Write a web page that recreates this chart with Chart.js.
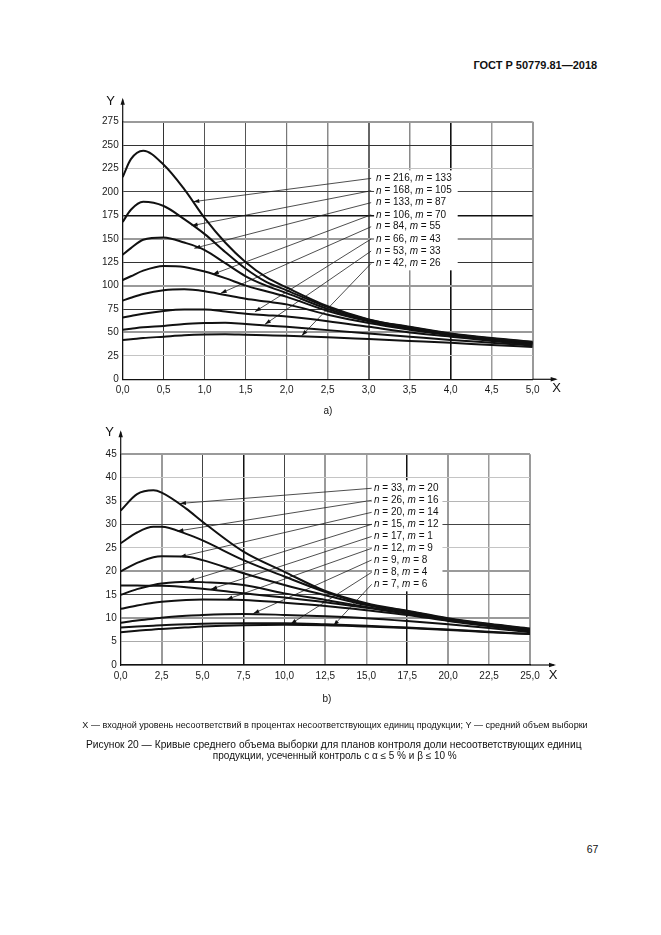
<!DOCTYPE html>
<html><head><meta charset="utf-8">
<script src="https://cdn.jsdelivr.net/npm/chart.js@4.4.1/dist/chart.umd.min.js"></script>
<style>
html,body{margin:0;padding:0;background:#fff;}
body{width:661px;height:935px;position:relative;overflow:hidden;font-family:"Liberation Sans",Arial,sans-serif;color:#111;}
.t{position:absolute;white-space:nowrap;line-height:1;}
canvas{position:absolute;left:0;}
</style></head><body>
<div class="t" id="hdr" style="font-weight:bold">ГОСТ Р 50779.81—2018</div>
<canvas id="c1" style="top:80px;width:661px;height:345px"></canvas>
<div class="t" id="la">a)</div>
<canvas id="c2" style="top:420px;width:661px;height:290px"></canvas>
<div class="t" id="lb">b)</div>
<div class="t" id="fn">X — входной уровень несоответствий в процентах несоответствующих единиц продукции; Y — средний объем выборки</div>
<div class="t" id="cap1">Рисунок 20 — Кривые среднего объема выборки для планов контроля доли несоответствующих единиц</div>
<div class="t" id="cap2">продукции, усеченный контроль с α ≤ 5 % и β ≤ 10 %</div>
<div class="t" id="pg">67</div>
<script>
// ---------- DATA: chart a) ----------
const topX = [0, 0.1, 0.25, 0.5, 0.75, 1.0, 1.25, 1.5, 1.75, 2.0, 2.5, 3.0, 3.5, 4.0, 4.5, 5.0];
const topCurve216 = [216, 235, 244, 229, 203, 172, 146, 125, 109, 98, 78, 64, 56, 49, 44, 40];
const topCurve168 = [168, 181, 189.5, 185, 171, 155, 136, 118, 104, 95, 77, 63.5, 55.5, 48.5, 43.5, 39.5];
const topCurve133 = [133, 140, 149, 151.5, 146, 138, 124, 110, 100, 92, 75, 62.5, 55, 48, 43, 39];
const topCurve106 = [106, 110, 116, 121, 120, 115, 108, 100, 94, 88, 73, 62, 54, 47.5, 42.5, 38.5];
const topCurve84 = [84, 87, 91, 95, 96, 94, 90, 86, 83, 80, 69, 60, 53, 47, 42, 38];
const topCurve66 = [66, 67.5, 70, 73, 74.5, 74.5, 72.5, 70, 68.5, 67, 62, 56, 50, 45.5, 41, 37];
const topCurve53 = [53, 54, 55.5, 57, 59, 60, 60.5, 59, 57.5, 56, 52.5, 49, 45.5, 42, 39, 36];
const topCurve42 = [42, 42.7, 44, 45.5, 47, 47.8, 48, 47.5, 47, 46.5, 45, 43, 41, 39, 36.5, 34.5];
const topN = [216, 168, 133, 106, 84, 66, 53, 42];
const topM = [133, 105, 87, 70, 55, 43, 33, 26];
const topLabelX = 3.09;
const topLeaderStartX = 3.03;
const topLabelY = [214.5, 201.3, 188.6, 175.6, 162.9, 149.8, 136.9, 123.8];
const topTipX = [0.861, 0.841, 0.873, 1.098, 1.195, 1.613, 1.735, 2.183];
const topTipY = [189.6, 164, 139.9, 112.1, 91.8, 72.2, 58.7, 46.5];
const topXTicks = ['0,0','0,5','1,0','1,5','2,0','2,5','3,0','3,5','4,0','4,5','5,0'];
const topYTicks = ['0','25','50','75','100','125','150','175','200','225','250','275'];

// ---------- DATA: chart b) ----------
const botX = [0, 1, 2, 2.5, 4, 5, 7.5, 10, 12.5, 15, 17.5, 20, 22.5, 25];
const botCurve33 = [33, 36.5, 37.3, 36.8, 33.4, 30.6, 24.2, 19.9, 15.8, 13.2, 11.6, 10, 8.8, 7.8];
const botCurve26 = [26, 28.3, 29.5, 29.5, 28, 26.6, 22.4, 18.9, 15.6, 13, 11.5, 9.9, 8.7, 7.7];
const botCurve20 = [20, 21.8, 23, 23.2, 23.1, 22.4, 19.6, 17.1, 14.9, 12.8, 11.3, 9.8, 8.6, 7.6];
const botCurve15 = [15, 16.2, 17.1, 17.4, 17.8, 17.7, 17.1, 15.3, 13.9, 12.4, 11, 9.6, 8.5, 7.5];
const botCurve17 = [17, 17, 16.9, 16.9, 16.6, 16.3, 15.3, 14.4, 13.4, 12.2, 11, 9.6, 8.4, 7.3];
const botCurve12 = [12, 12.7, 13.3, 13.5, 13.9, 14, 13.9, 13.3, 12.6, 11.7, 10.7, 9.4, 8.3, 7.2];
const botCurve9 = [9, 9.5, 9.9, 10.1, 10.5, 10.7, 10.9, 10.7, 10.4, 10, 9.4, 8.7, 7.9, 7];
const botCurve8 = [8, 8.2, 8.4, 8.5, 8.7, 8.8, 8.9, 8.9, 8.7, 8.4, 8, 7.6, 7.1, 6.6];
const botCurve7 = [7, 7.3, 7.6, 7.7, 8, 8.2, 8.5, 8.6, 8.5, 8.2, 7.9, 7.5, 7, 6.6];
const botN = [33, 26, 20, 15, 17, 12, 9, 8, 7];
const botM = [20, 16, 14, 12, 1, 9, 8, 4, 6];
const botLabelX = 15.47;
const botLeaderStartX = 15.33;
const botLabelY = [37.74, 35.17, 32.61, 30.05, 27.45, 24.92, 22.43, 19.8, 17.23];
const botTipX = [3.62, 3.46, 3.62, 4.13, 5.52, 6.47, 8.10, 10.38, 12.99];
const botTipY = [34.5, 28.6, 23.1, 17.9, 16.2, 14.0, 11.0, 8.76, 8.4];
const botXTicks = ['0,0','2,5','5,0','7,5','10,0','12,5','15,0','17,5','20,0','22,5','25,0'];
const botYTicks = ['0','5','10','15','20','25','30','35','40','45'];

// ---------- helpers ----------
const FONT = '"Liberation Sans", Arial, sans-serif';
function curveDs(xs, ys){
  return {data: xs.map((x,i)=>({x:x,y:ys[i]})), borderColor:'#111', borderWidth:2,
    pointRadius:0, cubicInterpolationMode:'monotone', fill:false, order:1};
}
function leaderDs(sx, ly, tx, ty){
  return {data:[{x:sx,y:ly},{x:tx,y:ty}], borderColor:'#222', borderWidth:0.8,
    pointRadius:0, tension:0, fill:false, leader:true, order:2};
}
function fixedFit(w){ return s => { s.width = w; }; }
function fixedH(h){ return s => { s.height = h; }; }

const decorPlugin = {
  id:'decor',
  afterDatasetsDraw(chart, args, o){
    const ctx = chart.ctx, xs = chart.scales.x, ys = chart.scales.y;
    // arrowheads on leaders
    chart.data.datasets.forEach(ds=>{
      if(!ds.leader) return;
      const a = ds.data[0], b = ds.data[1];
      const x0 = xs.getPixelForValue(a.x), y0 = ys.getPixelForValue(a.y);
      const x1 = xs.getPixelForValue(b.x), y1 = ys.getPixelForValue(b.y);
      const ang = Math.atan2(y1-y0, x1-x0);
      const L = 6, W = 2;
      ctx.save(); ctx.fillStyle='#111'; ctx.beginPath();
      ctx.moveTo(x1,y1);
      ctx.lineTo(x1 - L*Math.cos(ang) + W*Math.sin(ang), y1 - L*Math.sin(ang) - W*Math.cos(ang));
      ctx.lineTo(x1 - L*Math.cos(ang) - W*Math.sin(ang), y1 - L*Math.sin(ang) + W*Math.cos(ang));
      ctx.closePath(); ctx.fill(); ctx.restore();
    });
    // labels with white box
    const lx = xs.getPixelForValue(o.labelX);
    ctx.save();
    ctx.textBaseline='middle';
    const parts = o.n.map((n,i)=>[['n',true],[' = '+n+', ',false],['m',true],[' = '+o.m[i],false]]);
    let maxW = 0;
    parts.forEach(p=>{ let w=0; p.forEach(([t,it])=>{ctx.font=(it?'italic ':'')+'10px '+FONT; w+=ctx.measureText(t).width;}); maxW=Math.max(maxW,w); });
    const yTop = ys.getPixelForValue(o.labelY[0]) - 8;
    const yBot = ys.getPixelForValue(o.labelY[o.labelY.length-1]) + 7;
    ctx.fillStyle='#fff';
    ctx.fillRect(lx-2, yTop, maxW+o.boxExtra, yBot-yTop);
    ctx.fillStyle='#111';
    parts.forEach((p,i)=>{
      let x = lx; const y = ys.getPixelForValue(o.labelY[i]);
      p.forEach(([t,it])=>{ctx.font=(it?'italic ':'')+'10px '+FONT; ctx.fillText(t,x,y); x+=ctx.measureText(t).width;});
    });
    ctx.restore();
  },
  afterDraw(chart, args, o){
    const ctx = chart.ctx, ca = chart.chartArea;
    ctx.save();
    ctx.strokeStyle='#111'; ctx.fillStyle='#111'; ctx.lineWidth=1.2;
    const ytop = ca.top - o.yExt, xr = ca.right + o.xExt;
    ctx.beginPath(); ctx.moveTo(ca.left, ca.top); ctx.lineTo(ca.left, ytop+2); ctx.stroke();
    ctx.beginPath(); ctx.moveTo(ca.right, ca.bottom); ctx.lineTo(xr-2, ca.bottom); ctx.stroke();
    ctx.beginPath(); ctx.moveTo(ca.left, ytop); ctx.lineTo(ca.left-2.2, ytop+7); ctx.lineTo(ca.left+2.2, ytop+7); ctx.closePath(); ctx.fill();
    ctx.beginPath(); ctx.moveTo(xr, ca.bottom); ctx.lineTo(xr-7, ca.bottom-2.2); ctx.lineTo(xr-7, ca.bottom+2.2); ctx.closePath(); ctx.fill();
    ctx.font='13px '+FONT; ctx.textAlign='center'; ctx.textBaseline='middle';
    ctx.fillText('Y', ca.left + o.yLab[0], ytop + o.yLab[1]);
    ctx.fillText('X', xr + o.xLab[0], ca.bottom + o.xLab[1]);
    ctx.restore();
  }
};

function gridStyle(map){
  return {
    color: c => (map[String(c.tick && c.tick.value)] || ['#888',1])[0],
    lineWidth: c => (map[String(c.tick && c.tick.value)] || ['#888',1])[1],
    drawTicks:false
  };
}

Chart.defaults.font.family = FONT;
Chart.defaults.color = '#1a1a1a';

function makeChart(id, cfg){
  const curves = cfg.curves.map(ys=>curveDs(cfg.xs, ys));
  const leaders = cfg.tipX.map((tx,i)=>leaderDs(cfg.leaderStartX, cfg.labelY[i], tx, cfg.tipY[i]));
  const cv = document.getElementById(id);
  cv.width = 661; cv.height = cfg.h;
  return new Chart(cv, {
    type:'line',
    data:{datasets: curves.concat(leaders)},
    options:{
      responsive:false, animation:false, devicePixelRatio:1,
      layout:{padding:{left:0, top:cfg.padTop, right:cfg.padRight, bottom:0}},
      plugins:{legend:{display:false}, tooltip:{enabled:false},
        decor:{labelX:cfg.labelX, labelY:cfg.labelY, n:cfg.n, m:cfg.m, boxExtra:cfg.boxExtra,
          yExt:cfg.yExt, xExt:cfg.xExt, yLab:cfg.yLab, xLab:cfg.xLab}},
      scales:{
        x:{type:'linear', min:0, max:cfg.xMax,
          afterFit: fixedH(cfg.xH),
          afterBuildTicks: s => { s.ticks = cfg.xTicks.map((t,i)=>({value: i*cfg.xStep})); },
          ticks:{callback:(v,i)=>cfg.xTicks[i], autoSkip:false, maxRotation:0, padding:5, font:{size:10}, color:'#1a1a1a'},
          grid: gridStyle(cfg.xGrid),
          border:{display:true, color:'#111', width:1.3}},
        y:{type:'linear', min:0, max:cfg.yMax,
          afterFit: fixedFit(cfg.yW),
          afterBuildTicks: s => { s.ticks = cfg.yTicks.map((t,i)=>({value: i*cfg.yStep})); },
          ticks:{callback:(v,i)=>cfg.yTicks[i], autoSkip:false, padding:4, font:{size:10}, color:'#1a1a1a'},
          grid: gridStyle(cfg.yGrid),
          border:{display:true, color:'#111', width:1.3}}
      }
    },
    plugins:[decorPlugin]
  });
}

makeChart('c1', {
  h:345, padTop:41.7, padRight:128.3, xH:45.7, yW:122.7,
  xs: topX, curves:[topCurve216, topCurve168, topCurve133, topCurve106, topCurve84, topCurve66, topCurve53, topCurve42],
  n: topN, m: topM, labelX: topLabelX, leaderStartX: topLeaderStartX, labelY: topLabelY, tipX: topTipX, tipY: topTipY,
  xMax:5, xStep:0.5, yMax:275, yStep:25, xTicks: topXTicks, yTicks: topYTicks, boxExtra:8,
  yExt:24, xExt:25, yLab:[-12, 4], xLab:[-1, 9],
  xGrid:{'0.5':['#333',1],'1':['#555',1],'1.5':['#555',1],'2':['#777',1.2],'2.5':['#8a8a8a',1.5],'3':['#666',2],'3.5':['#8a8a8a',1.5],'4':['#111',1.6],'4.5':['#999',1.5],'5':['#999',2]},
  yGrid:{'25':['#c4c4c4',1],'50':['#9a9a9a',2],'75':['#333',1],'100':['#9a9a9a',2],'125':['#333',1],'150':['#9a9a9a',2],'175':['#111',1.6],'200':['#444',1],'225':['#c4c4c4',1],'250':['#333',1],'275':['#9a9a9a',2]}
});

makeChart('c2', {
  h:290, padTop:34.3, padRight:131, xH:45, yW:120.7,
  xs: botX, curves:[botCurve33, botCurve26, botCurve20, botCurve15, botCurve17, botCurve12, botCurve9, botCurve8, botCurve7],
  n: botN, m: botM, labelX: botLabelX, leaderStartX: botLeaderStartX, labelY: botLabelY, tipX: botTipX, tipY: botTipY,
  xMax:25, xStep:2.5, yMax:45, yStep:5, xTicks: botXTicks, yTicks: botYTicks, boxExtra:6,
  yExt:24, xExt:26, yLab:[-11, 2], xLab:[-3, 10],
  xGrid:{'2.5':['#9a9a9a',2],'5':['#444',1],'7.5':['#111',1.5],'10':['#444',1],'12.5':['#9a9a9a',2],'15':['#9a9a9a',1.5],'17.5':['#111',1.5],'20':['#9a9a9a',2],'22.5':['#9a9a9a',1.5],'25':['#9a9a9a',2]},
  yGrid:{'5':['#aaa',1],'10':['#9a9a9a',2],'15':['#444',1],'20':['#9a9a9a',2],'25':['#c4c4c4',1],'30':['#444',1],'35':['#b5b5b5',1],'40':['#c4c4c4',1],'45':['#9a9a9a',2]}
});

// ---------- page text placement ----------
function place(id, cx, cy, size, width){
  const el = document.getElementById(id);
  el.style.fontSize = size+'px';
  if(width){ const w = el.getBoundingClientRect().width; el.style.fontSize = (size*width/w)+'px'; }
  const r = el.getBoundingClientRect();
  el.style.left = (cx - r.width/2)+'px';
  el.style.top = (cy - r.height/2)+'px';
}
place('hdr', 535.3, 66, 11, 124);
place('la', 328, 411, 10);
place('lb', 327, 698.5, 10);
place('fn', 335, 726, 8, 506.6);
place('cap1', 333.8, 745.5, 10, 495.7);
place('cap2', 334.8, 756, 10);
place('pg', 592.5, 849.5, 10.5);
</script>
</body></html>
